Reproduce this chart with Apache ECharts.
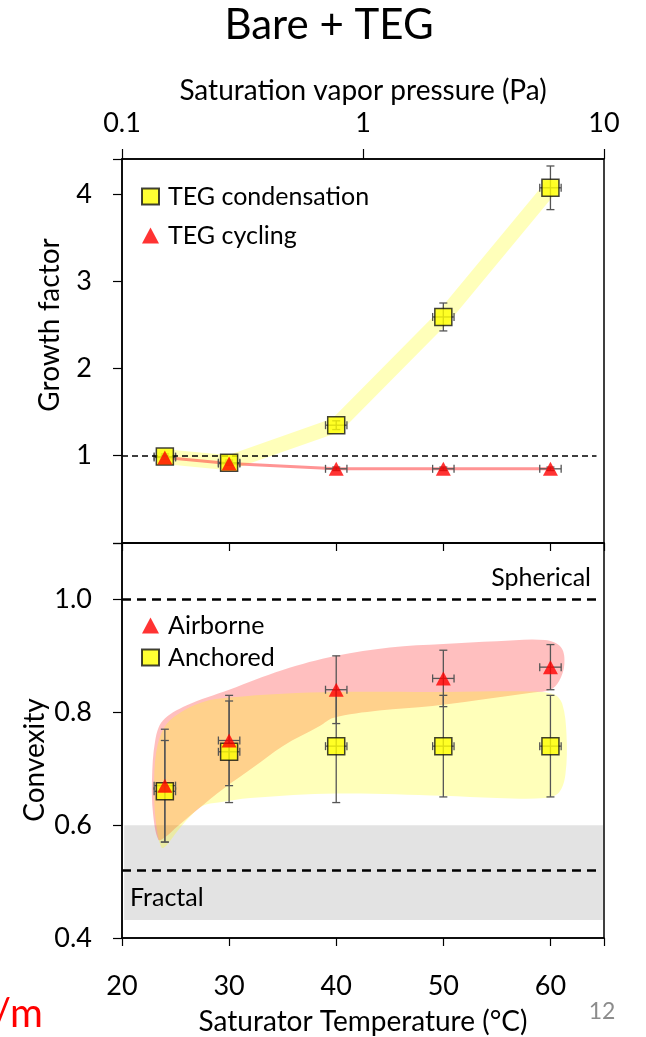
<!DOCTYPE html>
<html>
<head>
<meta charset="utf-8">
<script src="https://cdn.jsdelivr.net/npm/echarts@6/dist/echarts.min.js"></script>
<style>html,body{margin:0;padding:0;background:#fff;}#c{width:646px;height:1037px;}</style>
</head>
<body>
<div id="c"></div>
<script>
// ---- data ----
const temps = [24, 30, 40, 50, 60];
const tempErr = [1, 1, 1, 1, 1];
const condGrowth = [0.99, 0.92, 1.35, 2.59, 4.07];
const condGrowthErr = [0.03, 0.03, 0.05, 0.16, 0.25];
const cycGrowth = [0.98, 0.91, 0.85, 0.85, 0.85];
const cycGrowthErr = [0.02, 0.02, 0.02, 0.02, 0.02];
const airborneConv = [0.67, 0.75, 0.84, 0.86, 0.88];
const airborneErr = [0.10, 0.08, 0.06, 0.05, 0.04];
const anchoredConv = [0.66, 0.73, 0.74, 0.74, 0.74];
const anchoredErr = [0.09, 0.09, 0.10, 0.09, 0.09];
const pressureTicks = ['0.1', '1', '10'];
const growthTicks = ['1', '2', '3', '4'];
const convexityTicks = ['0.4', '0.6', '0.8', '1.0'];
const tempTicks = ['20', '30', '40', '50', '60'];
const sphericalLimit = 1.0;
const fractalLimit = 0.52;
const fractalBand = [0.432, 0.60];
const growthRef = 1.0;
// shaded envelopes (temperature, convexity)
const airborneEnvelope = [[23.4,0.574],[22.9,0.62],[22.8,0.68],[23.1,0.75],[23.8,0.785],[26,0.812],[30,0.84],[35,0.875],[40,0.9],[45,0.915],[50,0.921],[55,0.926],[59.5,0.928],[61,0.915],[61.3,0.885],[60.8,0.855],[60,0.84],[58.4,0.835],[55,0.826],[49,0.811],[44,0.803],[39.7,0.79],[38.5,0.776],[35,0.74],[32.3,0.703],[29.5,0.665],[27,0.627],[25,0.595],[24,0.578]];
const anchoredEnvelope = [[23.7,0.56],[23.2,0.6],[23.0,0.66],[23.2,0.73],[24,0.775],[25.5,0.80],[27.5,0.818],[30,0.826],[35,0.833],[40,0.836],[50,0.836],[58,0.837],[60.3,0.832],[61.1,0.815],[61.5,0.76],[61.4,0.69],[60.8,0.658],[59.5,0.648],[55,0.648],[50,0.652],[40,0.656],[32,0.648],[29,0.64],[27.5,0.634],[26.2,0.612],[25,0.585],[24.2,0.565]];

const FONT = 'Lato';
const chart = echarts.init(document.getElementById('c'), null, {renderer: 'canvas'});

function pairs(ys){ return temps.map((t,i)=>[t, ys[i]]); }
function errData(ys, es){ return temps.map((t,i)=>[t, ys[i], tempErr[i], es[i]]); }

function errRender(params, api){
  const x = api.value(0), y = api.value(1), ex = api.value(2), ey = api.value(3);
  const c = api.coord([x, y]);
  const t = api.coord([x, y + ey]);
  const b = api.coord([x, y - ey]);
  const l = api.coord([x - ex, y]);
  const r = api.coord([x + ex, y]);
  const cap = 4;
  const st = {stroke: '#555', lineWidth: 1.3};
  const ln = (x1,y1,x2,y2)=>({type:'line', shape:{x1,y1,x2,y2}, style:st});
  return {type:'group', children:[
    ln(c[0], t[1], c[0], b[1]),
    ln(c[0]-cap, t[1], c[0]+cap, t[1]),
    ln(c[0]-cap, b[1], c[0]+cap, b[1]),
    ln(l[0], c[1], r[0], c[1]),
    ln(l[0], c[1]-cap, l[0], c[1]+cap),
    ln(r[0], c[1]-cap, r[0], c[1]+cap)
  ]};
}
function envelopeSeries(pts, color, z){
  return {
    type:'custom', xAxisIndex:2, yAxisIndex:1, z:z, silent:true, clip:false,
    data:[pts[0]],
    renderItem:(p, api)=>({type:'polygon', shape:{points: pts.map(q=>api.coord(q)), smooth:0.35}, style:{fill:color}})
  };
}
const tickFmt = list => v => { const s = String(+(+v).toPrecision(4)); const s1 = (+v).toFixed(1); return list.includes(s) ? s : (list.includes(s1) ? s1 : ''); };

const axisLine = {show:true, lineStyle:{color:'#000', width:1.5}};
const option = {
  animation:false,
  textStyle:{fontFamily:FONT},
  grid:[
    {left:122, right:42, top:159, height:384, show:true, borderColor:'#000', borderWidth:1.5, backgroundColor:'transparent'},
    {left:122, right:42, top:543, height:400, show:true, borderColor:'#000', borderWidth:1.5, backgroundColor:'transparent'}
  ],
  xAxis:[
    {gridIndex:0, type:'value', min:20, max:65, interval:10, position:'bottom',
     axisLine:axisLine, axisTick:{show:true, length:8, lineStyle:{color:'#000', width:1.2}},
     axisLabel:{show:false}, splitLine:{show:false}},
    {gridIndex:0, type:'log', logBase:10, min:0.1, max:10, position:'top',
     name:'Saturation vapor pressure (Pa)', nameLocation:'middle', nameGap:54,
     nameTextStyle:{fontSize:28, color:'#000', fontFamily:FONT},
     axisLine:axisLine, axisTick:{show:true, length:10, lineStyle:{color:'#000', width:1.2}},
     axisLabel:{fontSize:27, color:'#000', margin:22, fontFamily:FONT, formatter:tickFmt(pressureTicks)},
     splitLine:{show:false}},
    {gridIndex:1, type:'value', min:20, max:65, interval:10, position:'bottom',
     name:'Saturator Temperature (°C)', nameLocation:'middle', nameGap:70,
     nameTextStyle:{fontSize:28, color:'#000', fontFamily:FONT},
     axisLine:axisLine, axisTick:{show:true, length:8, lineStyle:{color:'#000', width:1.2}},
     axisLabel:{fontSize:27, color:'#000', margin:35, fontFamily:FONT, formatter:tickFmt(tempTicks)},
     splitLine:{show:false}}
  ],
  yAxis:[
    {gridIndex:0, type:'value', min:0, max:4.4, interval:1,
     axisLine:axisLine, axisTick:{show:true, length:9, lineStyle:{color:'#000', width:1.2}},
     axisLabel:{fontSize:27, color:'#000', margin:30, fontFamily:FONT, formatter:tickFmt(growthTicks)},
     splitLine:{show:false}},
    {gridIndex:1, type:'value', min:0.4, max:1.1, interval:0.2,
     axisLine:axisLine, axisTick:{show:true, length:9, lineStyle:{color:'#000', width:1.2}},
     axisLabel:{fontSize:27, color:'#000', margin:30, fontFamily:FONT, formatter:tickFmt(convexityTicks)},
     splitLine:{show:false}}
  ],
  legend:[
    {left:136, top:179, orient:'vertical', itemWidth:17, itemHeight:16, itemGap:14,
     textStyle:{fontSize:25, color:'#000', fontFamily:FONT, lineHeight:24, padding:[0,0,0,4]},
     data:['TEG condensation','TEG cycling'], selectedMode:false},
    {left:136, top:608, orient:'vertical', itemWidth:17, itemHeight:16, itemGap:7,
     textStyle:{fontSize:25, color:'#000', fontFamily:FONT, lineHeight:24, padding:[0,0,0,4]},
     data:['Airborne','Anchored'], selectedMode:false}
  ],
  graphic:[
    {type:'text', z:100, x:329, y:25, style:{text:'Bare + TEG', font:'42px Lato', fill:'#000', textAlign:'center', textVerticalAlign:'middle'}},
    {type:'text', z:100, x:50, y:325, rotation:Math.PI/2, style:{text:'Growth factor', font:'28px Lato', fill:'#000', textAlign:'center', textVerticalAlign:'middle'}},
    {type:'text', z:100, x:35, y:760, rotation:Math.PI/2, style:{text:'Convexity', font:'28px Lato', fill:'#000', textAlign:'center', textVerticalAlign:'middle'}},
    {type:'text', z:100, x:591, y:578, style:{text:'Spherical', font:'25px Lato', fill:'#000', textAlign:'right', textVerticalAlign:'middle'}},
    {type:'text', z:100, x:130, y:898, style:{text:'Fractal', font:'25px Lato', fill:'#000', textAlign:'left', textVerticalAlign:'middle'}},
    {type:'text', z:100, x:-7, y:1014, style:{text:'/m', font:'40px Lato', fill:'#ff0000', textAlign:'left', textVerticalAlign:'middle'}},
    {type:'text', z:100, x:602, y:1012, style:{text:'12', font:'23px Lato', fill:'#8c8c8c', textAlign:'center', textVerticalAlign:'middle'}}
  ],
  series:[
    // ---- top panel ----
    {type:'line', name:'condBand', xAxisIndex:0, yAxisIndex:0, z:1, silent:true, symbol:'none',
     data:pairs(condGrowth), lineStyle:{color:'rgba(255,255,0,0.27)', width:15, cap:'round', join:'round'},
     markLine:{silent:true, symbol:'none', label:{show:false},
       lineStyle:{type:[6,4], color:'#000', width:1.5},
       data:[[{coord:[20, growthRef]},{coord:[64.3, growthRef]}]]}},
    {type:'line', name:'cycLine', xAxisIndex:0, yAxisIndex:0, z:2, silent:true, symbol:'none',
     data:pairs(cycGrowth), lineStyle:{color:'rgba(255,60,60,0.55)', width:3}},
    {type:'custom', xAxisIndex:0, yAxisIndex:0, z:4, silent:true, data:errData(condGrowth, condGrowthErr), renderItem:errRender, encode:{x:0,y:1}},
    {type:'custom', xAxisIndex:0, yAxisIndex:0, z:4, silent:true, data:errData(cycGrowth, cycGrowthErr), renderItem:errRender, encode:{x:0,y:1}},
    {type:'scatter', name:'TEG condensation', xAxisIndex:0, yAxisIndex:0, z:5, symbol:'rect', symbolSize:17,
     itemStyle:{color:'#ffff00', borderColor:'#111', borderWidth:1.5}, data:pairs(condGrowth)},
    {type:'scatter', name:'TEG cycling', xAxisIndex:0, yAxisIndex:0, z:6, symbol:'triangle', symbolSize:[15,14],
     itemStyle:{color:'#ff0000'}, data:pairs(cycGrowth)},
    // ---- bottom panel ----
    {type:'line', name:'refs', xAxisIndex:2, yAxisIndex:1, z:1, silent:true, symbol:'none', data:[],
     markArea:{silent:true, itemStyle:{color:'#e3e3e3'},
       data:[[{coord:[20.2, fractalBand[0]]},{coord:[64.9, fractalBand[1]]}]]},
     markLine:{silent:true, symbol:'none', label:{show:false},
       lineStyle:{type:[9,6], color:'#000', width:2.5},
       data:[[{coord:[20, sphericalLimit]},{coord:[64.3, sphericalLimit]}],
             [{coord:[20, fractalLimit]},{coord:[64.3, fractalLimit]}]]}},
    envelopeSeries(airborneEnvelope, 'rgba(255,0,0,0.25)', 2),
    envelopeSeries(anchoredEnvelope, 'rgba(255,255,0,0.27)', 3),
    {type:'custom', xAxisIndex:2, yAxisIndex:1, z:4, silent:true, data:errData(anchoredConv, anchoredErr), renderItem:errRender, encode:{x:0,y:1}},
    {type:'custom', xAxisIndex:2, yAxisIndex:1, z:4, silent:true, data:errData(airborneConv, airborneErr), renderItem:errRender, encode:{x:0,y:1}},
    {type:'scatter', name:'Anchored', xAxisIndex:2, yAxisIndex:1, z:5, symbol:'rect', symbolSize:17,
     itemStyle:{color:'#ffff00', borderColor:'#111', borderWidth:1.5}, data:pairs(anchoredConv)},
    {type:'scatter', name:'Airborne', xAxisIndex:2, yAxisIndex:1, z:6, symbol:'triangle', symbolSize:[15,14],
     itemStyle:{color:'#ff0000'}, data:pairs(airborneConv)}
  ]
};
chart.setOption(option);
</script>
</body>
</html>
